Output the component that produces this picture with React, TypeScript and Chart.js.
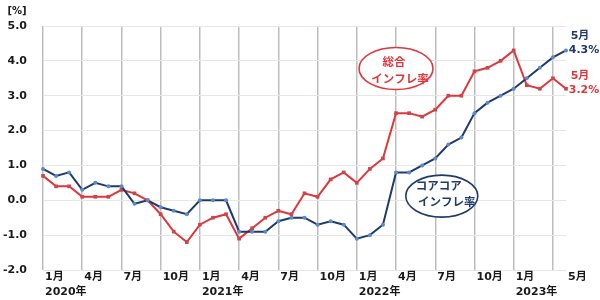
import React, { useEffect, useRef } from 'react';
import { Chart, registerables } from 'chart.js';

Chart.register(...registerables);

// ---- data ----
const years = [2020, 2021, 2022, 2023];
const lastMonth2023 = 5;

// 総合インフレ率 (headline), Jan 2020 – May 2023
const headline = [
  0.7, 0.4, 0.4, 0.1, 0.1, 0.1, 0.3, 0.2, 0.0, -0.4, -0.9, -1.2,
  -0.7, -0.5, -0.4, -1.1, -0.8, -0.5, -0.3, -0.4, 0.2, 0.1, 0.6, 0.8,
  0.5, 0.9, 1.2, 2.5, 2.5, 2.4, 2.6, 3.0, 3.0, 3.7, 3.8, 4.0,
  4.3, 3.3, 3.2, 3.5, 3.2,
];

// コアコアインフレ率 (core-core), Jan 2020 – May 2023
const coreCore = [
  0.9, 0.7, 0.8, 0.3, 0.5, 0.4, 0.4, -0.1, 0.0, -0.2, -0.3, -0.4,
  0.0, 0.0, 0.0, -0.9, -0.9, -0.9, -0.6, -0.5, -0.5, -0.7, -0.6, -0.7,
  -1.1, -1.0, -0.7, 0.8, 0.8, 1.0, 1.2, 1.6, 1.8, 2.5, 2.8, 3.0,
  3.2, 3.5, 3.8, 4.1, 4.3,
];

const yTicks = [-2, -1, 0, 1, 2, 3, 4, 5];
const headlineLabel = ['総合', 'インフレ率'];
const coreLabel = ['コアコア', 'インフレ率'];
const unitLabel = '[%]';

// categories: [year, month]
const categories: { y: number; m: number }[] = [];
for (const y of years) {
  for (let m = 1; m <= 12; m++) {
    if (y === 2023 && m > lastMonth2023) break;
    categories.push({ y, m });
  }
}
const categoryNames = categories.map((c) => `${c.y}年${c.m}月`);

const RED = '#e2353a';
const RED_MARK = '#c8474a';
const NAVY = '#1f3a6b';
const BLUE_MARK = '#5a8acb';
const TEXT = '#1a1a1a';
const FONT = "'DejaVu Sans', 'Noto Sans CJK JP', sans-serif";
const CJK = "'Noto Sans CJK JP', sans-serif";

const annotPlugin = {
  id: 'annot',
  afterDraw(chart: any) {
    const ctx = chart.ctx as CanvasRenderingContext2D;
    const xs = chart.scales.x;
    const ys = chart.scales.y;
    ctx.save();
    ctx.textAlign = 'center';
    ctx.textBaseline = 'middle';

    // unit
    ctx.fillStyle = TEXT;
    ctx.font = `bold 10px ${FONT}`;
    ctx.fillText(unitLabel, 17, 11);

    // headline ellipse
    const rcx = xs.getPixelForValue(27);
    const rcy = ys.getPixelForValue(3.78);
    ctx.strokeStyle = RED;
    ctx.fillStyle = '#ffffff';
    ctx.lineWidth = 1.6;
    ctx.beginPath();
    ctx.ellipse(rcx, rcy, 37, 21, 0, 0, Math.PI * 2);
    ctx.fill();
    ctx.stroke();
    ctx.fillStyle = RED;
    ctx.font = `bold 11.5px ${CJK}`;
    ctx.fillText(headlineLabel[0], rcx - 2, rcy - 7);
    ctx.fillText(headlineLabel[1], rcx + 4, rcy + 10);

    // core-core ellipse
    const bcx = xs.getPixelForValue(30.5);
    const bcy = ys.getPixelForValue(0.12);
    ctx.strokeStyle = NAVY;
    ctx.fillStyle = '#ffffff';
    ctx.beginPath();
    ctx.ellipse(bcx, bcy, 36, 21, 0, 0, Math.PI * 2);
    ctx.fill();
    ctx.stroke();
    ctx.fillStyle = NAVY;
    ctx.fillText(coreLabel[0], bcx - 3, bcy - 10);
    ctx.fillText(coreLabel[1], bcx + 5, bcy + 6);

    // end labels
    const li = categories.length - 1;
    const lx = xs.getPixelForValue(li) + 18;
    const monthText = `${categories[li].m}月`;
    ctx.font = `bold 11px ${FONT}`;
    const by = ys.getPixelForValue(coreCore[li]);
    ctx.fillStyle = NAVY;
    ctx.fillText(monthText, lx - 4, by - 14);
    ctx.fillText(`${coreCore[li].toFixed(1)}%`, lx, by);
    const ry = ys.getPixelForValue(headline[li]);
    ctx.fillStyle = RED;
    ctx.fillText(monthText, lx - 4, ry - 13);
    ctx.fillText(`${headline[li].toFixed(1)}%`, lx, ry + 1);

    ctx.restore();
  },
};

export default function App() {
  const ref = useRef<HTMLCanvasElement | null>(null);

  useEffect(() => {
    if (!ref.current) return;
    const last = categories.length - 1;
    const chart = new Chart(ref.current, {
      type: 'line',
      data: {
        labels: categoryNames,
        datasets: [
          {
            label: 'コアコアインフレ率',
            data: coreCore,
            borderColor: NAVY,
            borderWidth: 2,
            pointStyle: 'circle',
            pointRadius: 2,
            pointBackgroundColor: BLUE_MARK,
            pointBorderColor: BLUE_MARK,
            pointBorderWidth: 0,
            tension: 0,
          },
          {
            label: '総合インフレ率',
            data: headline,
            borderColor: RED,
            borderWidth: 2,
            pointStyle: 'rect',
            pointRadius: 2.6,
            pointBackgroundColor: RED_MARK,
            pointBorderColor: RED_MARK,
            pointBorderWidth: 0,
            tension: 0,
          },
        ],
      },
      options: {
        animation: false,
        responsive: false,
        layout: { padding: { top: 26, right: 34, left: 0, bottom: 0 } },
        plugins: {
          legend: { display: false },
          tooltip: { enabled: false },
        },
        scales: {
          x: {
            type: 'category',
            offset: false,
            border: { display: false },
            grid: {
              drawTicks: false,
              lineWidth: 1.5,
              color: (c: any) => (c.index % 3 === 0 ? '#bdbdbd' : 'rgba(0,0,0,0)'),
            },
            afterFit: (s: any) => {
              s.height = 30;
            },
            ticks: {
              autoSkip: false,
              maxRotation: 0,
              minRotation: 0,
              padding: 0,
              align: 'start',
              labelOffset: 2,
              color: TEXT,
              font: { family: FONT, size: 11, weight: 'bold', lineHeight: 1.35 },
              callback: (_v: any, i: number) => {
                const c = categories[i];
                if (!c) return '';
                if (i === last) return `${c.m}月`;
                if (i >= last - 2) return '';
                if (c.m === 1) return [`${c.m}月`, `${c.y}年`];
                if (c.m % 3 === 1) return `${c.m}月`;
                return '';
              },
            },
          },
          y: {
            min: yTicks[0],
            max: yTicks[yTicks.length - 1],
            border: { display: false },
            grid: { drawTicks: false, color: '#e6e6e6', lineWidth: 1 },
            afterFit: (s: any) => {
              s.width = 43;
            },
            ticks: {
              stepSize: 1,
              padding: 16,
              color: TEXT,
              font: { family: FONT, size: 11, weight: 'bold' },
              callback: (v: any) => Number(v).toFixed(1),
            },
          },
        },
      },
      plugins: [annotPlugin],
    } as any);
    return () => chart.destroy();
  }, []);

  return (
    <div style={{ position: 'fixed', left: 0, top: 0, width: 600, height: 300, background: '#fff' }}>
      <canvas ref={ref} width={600} height={300} style={{ display: 'block' }} />
    </div>
  );
}
